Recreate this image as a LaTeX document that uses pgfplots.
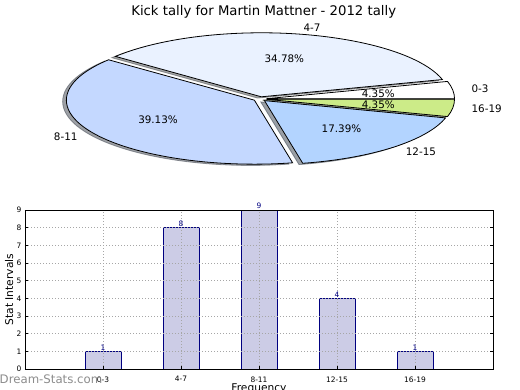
\documentclass[border=0pt]{standalone}
\usepackage{fontspec}
\setmainfont{DejaVu Sans}
\usepackage{pgfplots}
\usepackage{pgfplotstable}
\pgfplotsset{compat=1.18}
\pgfkeys{/pgf/number format/assume math mode=true}

\definecolor{c0}{HTML}{FFFFFF}
\definecolor{c1}{HTML}{EAF2FF}
\definecolor{c2}{HTML}{C4D8FF}
\definecolor{c3}{HTML}{B3D4FF}
\definecolor{c4}{HTML}{CCEB88}
\definecolor{barfill}{HTML}{CCCCE6}
\definecolor{navy}{HTML}{000080}

\pgfplotstableread{
label value
0-3 1
4-7 8
8-11 9
12-15 4
16-19 1
}\piedata

% pie geometry (in px of the 520x390 picture, y upwards)
\def\pcx{260}\def\pcy{291}\def\prx{188}\def\pry{64}\def\pex{0.035}
\def\shx{-3.76}\def\shy{-1.28}

\pgfplotstablegetrowsof{\piedata}
\pgfmathtruncatemacro\pielast{\pgfplotsretval-1}
\gdef\pietotal{0}
\foreach \i in {0,...,\pielast}{%
  \pgfplotstablegetelem{\i}{value}\of\piedata
  \pgfmathsetmacro\tT{\pietotal+\pgfplotsretval}%
  \xdef\pietotal{\tT}%
}
\gdef\pieacc{0}
\foreach \i in {0,...,\pielast}{%
  \pgfplotstablegetelem{\i}{value}\of\piedata
  \pgfmathsetmacro\tS{\pieacc}%
  \pgfmathsetmacro\tE{\pieacc+360*\pgfplotsretval/\pietotal}%
  \pgfmathsetmacro\tP{100*\pgfplotsretval/\pietotal}%
  \pgfmathsetmacro\tM{(\tS+\tE)/2}%
  \pgfmathsetmacro\tC{cos(\tM)}%
  \pgfmathsetmacro\tAX{\pcx+\pex*\prx*cos(\tM)}%
  \pgfmathsetmacro\tAY{\pcy+\pex*\pry*sin(\tM)}%
  \pgfmathsetmacro\tBX{\tAX+\prx*cos(\tS)}%
  \pgfmathsetmacro\tBY{\tAY+\pry*sin(\tS)}%
  \pgfmathsetmacro\tLX{\tAX+1.1*\prx*cos(\tM)}%
  \pgfmathsetmacro\tLY{\tAY+1.1*\pry*sin(\tM)}%
  \pgfmathsetmacro\tPX{\tAX+0.6*\prx*cos(\tM)}%
  \pgfmathsetmacro\tPY{\tAY+0.6*\pry*sin(\tM)}%
  \pgfmathsetmacro\tSAX{\tAX+\shx}%
  \pgfmathsetmacro\tSAY{\tAY+\shy}%
  \pgfmathsetmacro\tSBX{\tBX+\shx}%
  \pgfmathsetmacro\tSBY{\tBY+\shy}%
  \ifdim\tC pt>0pt \def\tAnc{west}\else\def\tAnc{east}\fi
  \expandafter\xdef\csname pieS\i\endcsname{\tS}%
  \expandafter\xdef\csname pieE\i\endcsname{\tE}%
  \expandafter\xdef\csname pieP\i\endcsname{\tP}%
  \expandafter\xdef\csname pieAX\i\endcsname{\tAX}%
  \expandafter\xdef\csname pieAY\i\endcsname{\tAY}%
  \expandafter\xdef\csname pieBX\i\endcsname{\tBX}%
  \expandafter\xdef\csname pieBY\i\endcsname{\tBY}%
  \expandafter\xdef\csname pieSAX\i\endcsname{\tSAX}%
  \expandafter\xdef\csname pieSAY\i\endcsname{\tSAY}%
  \expandafter\xdef\csname pieSBX\i\endcsname{\tSBX}%
  \expandafter\xdef\csname pieSBY\i\endcsname{\tSBY}%
  \expandafter\xdef\csname pieLX\i\endcsname{\tLX}%
  \expandafter\xdef\csname pieLY\i\endcsname{\tLY}%
  \expandafter\xdef\csname piePX\i\endcsname{\tPX}%
  \expandafter\xdef\csname piePY\i\endcsname{\tPY}%
  \expandafter\xdef\csname pieAnc\i\endcsname{\tAnc}%
  \pgfplotstablegetelem{\i}{label}\of\piedata
  \expandafter\xdef\csname pieL\i\endcsname{\pgfplotsretval}%
  \xdef\pieacc{\tE}%
}

\tikzset{
  pieslice/.style={fill=#1, draw=black, line width=0.8bp},
  pieshadow/.style={fill=#1!30!black, draw=#1!30!black, fill opacity=0.5, draw opacity=0.5, line width=0.8bp},
  pielabel/.style={font=\fontsize{10.4}{12}\selectfont, inner sep=0pt},
}

\begin{document}
\begin{tikzpicture}
% ---------------- pie ----------------
\begin{axis}[at={(0,0)}, anchor=south west, x=1bp, y=1bp,
  xmin=0, xmax=520, ymin=0, ymax=390, hide axis, clip=false]
\pgfplotsinvokeforeach{0,...,\pielast}{%
  \edef\tmp{\noexpand\filldraw[pieshadow=c#1]
    (axis cs:\csname pieSAX#1\endcsname,\csname pieSAY#1\endcsname) --
    (axis cs:\csname pieSBX#1\endcsname,\csname pieSBY#1\endcsname)
    arc[start angle=\csname pieS#1\endcsname, end angle=\csname pieE#1\endcsname,
        x radius=\prx bp, y radius=\pry bp] -- cycle;}\tmp
}
\pgfplotsinvokeforeach{0,...,\pielast}{%
  \edef\tmp{\noexpand\filldraw[pieslice=c#1]
    (axis cs:\csname pieAX#1\endcsname,\csname pieAY#1\endcsname) --
    (axis cs:\csname pieBX#1\endcsname,\csname pieBY#1\endcsname)
    arc[start angle=\csname pieS#1\endcsname, end angle=\csname pieE#1\endcsname,
        x radius=\prx bp, y radius=\pry bp] -- cycle;}\tmp
  \edef\tmp{\noexpand\node[pielabel, anchor=\csname pieAnc#1\endcsname]
    at (axis cs:\csname pieLX#1\endcsname,\csname pieLY#1\endcsname)
    {\csname pieL#1\endcsname};}\tmp
  \edef\tmp{\noexpand\node[pielabel, anchor=center]
    at (axis cs:\csname piePX#1\endcsname,\csname piePY#1\endcsname)
    {\noexpand\pgfmathprintnumber[fixed,fixed zerofill,precision=2]{\csname pieP#1\endcsname}\noexpand\%};}\tmp
}
\end{axis}
% ---------------- bars ----------------
\begin{axis}[at={(25bp,21bp)}, anchor=south west, scale only axis,
  width=468bp, height=159bp,
  xmin=-1, xmax=5, ymin=0, ymax=9,
  xtick={0,...,4}, xticklabels from table={\piedata}{label},
  ytick={0,...,9},
  tick label style={font=\fontsize{7.5}{9}\selectfont, text=black},
  xticklabel style={yshift=-4bp},
  tick align=inside, major tick length=3bp,
  xtick pos=left, ytick pos=both, yticklabel pos=left,
  tick style={black, line width=0.6bp},
  grid=major,
  major grid style={gray!70, dash pattern=on 1bp off 2bp, line width=0.6bp},
  axis line style={black, line width=0.8bp},
  axis on top, clip=false,
  xlabel={Frequency}, ylabel={Stat Intervals},
  label style={font=\fontsize{10.7}{12}\selectfont},
  xlabel style={at={(axis description cs:0.5,-0.1434)}, anchor=base},
  ylabel style={at={(axis description cs:-0.0256,0.5)}, anchor=base},
]
\addplot[ybar, bar width=0.46, fill=barfill, draw=navy, line width=0.8bp,
  nodes near coords,
  nodes near coords style={font=\fontsize{7.5}{9}\selectfont, text=navy, anchor=south, inner sep=0.6bp}]
  table[x expr=\coordindex, y=value]{\piedata};
\end{axis}
% ---------------- texts ----------------
\node[font=\fontsize{13.3}{15}\selectfont, anchor=base, inner sep=0pt]
  at (263.7bp,374bp) {Kick tally for Martin Mattner - 2012 tally};
\node[font=\fontsize{11.8}{14}\selectfont, text=black!45, anchor=base west, inner sep=0pt]
  at (-0.5bp,6.7bp) {Dream-Stats.com};
\pgfresetboundingbox
\useasboundingbox (0,0) rectangle (520bp,390bp);
\end{tikzpicture}
\end{document}
